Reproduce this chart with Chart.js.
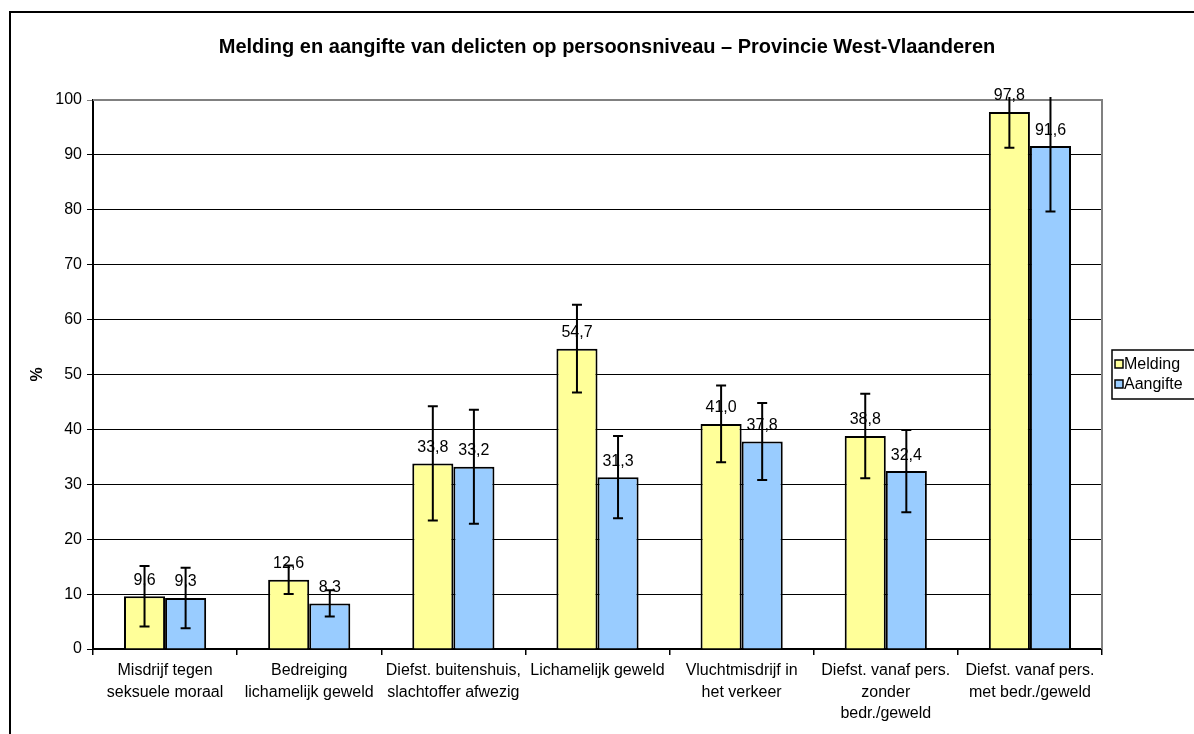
<!DOCTYPE html>
<html>
<head>
<meta charset="utf-8">
<script src="https://cdn.jsdelivr.net/npm/chart.js@4/dist/chart.umd.min.js"></script>
<style>
  html, body { margin: 0; padding: 0; background: #fff; }
  #wrap { width: 1194px; height: 734px; }
</style>
</head>
<body>
<div id="wrap"><canvas id="c" width="1194" height="734"></canvas></div>
<script>
const titleText = 'Melding en aangifte van delicten op persoonsniveau \u2013 Provincie West-Vlaanderen';
const categories = [
  ['Misdrijf tegen', 'seksuele moraal'],
  ['Bedreiging', 'lichamelijk geweld'],
  ['Diefst. buitenshuis,', 'slachtoffer afwezig'],
  ['Lichamelijk geweld'],
  ['Vluchtmisdrijf in', 'het verkeer'],
  ['Diefst. vanaf pers.', 'zonder', 'bedr./geweld'],
  ['Diefst. vanaf pers.', 'met bedr./geweld']
];
const seriesNames = ['Melding', 'Aangifte'];
const melding = [9.6, 12.6, 33.8, 54.7, 41.0, 38.8, 97.8];
const aangifte = [9.3, 8.3, 33.2, 31.3, 37.8, 32.4, 91.6];
const meldingErr = [5.5, 2.6, 10.4, 8.0, 7.0, 7.7, 6.5];
const aangifteErr = [5.5, 2.4, 10.4, 7.5, 7.0, 7.5, 11.9];
const yTicks = [0, 10, 20, 30, 40, 50, 60, 70, 80, 90, 100];

const FONT = '"Liberation Sans", Arial, Helvetica, sans-serif';
const colors = ['#FFFF99', '#99CCFF'];
const errs = [meldingErr, aangifteErr];

const decorPlugin = {
  id: 'decor',
  afterLayout(chart) {
    const t = chart.titleBlock;
    if (t) { t.left = 19; t.right = 1195; t.width = t.right - t.left; }
  },
  beforeDraw(chart) {
    const ctx = chart.ctx;
    ctx.save();
    ctx.fillStyle = '#fff';
    ctx.fillRect(0, 0, chart.width, chart.height);
    ctx.strokeStyle = '#000';
    ctx.lineWidth = 2;
    ctx.strokeRect(10, 12, 1300, 900);
    ctx.restore();
  },
  beforeDatasetsDraw(chart) {
    const ctx = chart.ctx;
    const a = chart.chartArea;
    ctx.save();
    ctx.strokeStyle = '#808080';
    ctx.lineWidth = 2;
    ctx.beginPath();
    ctx.moveTo(a.left, a.top);
    ctx.lineTo(a.right, a.top);
    ctx.lineTo(a.right, a.bottom);
    ctx.stroke();
    ctx.restore();
  },
  afterDatasetsDraw(chart) {
    const ctx = chart.ctx;
    const y = chart.scales.y;
    const a = chart.chartArea;
    ctx.save();
    // error bars
    chart.data.datasets.forEach((ds, di) => {
      const meta = chart.getDatasetMeta(di);
      meta.data.forEach((bar, i) => {
        const v = ds.data[i];
        const e = errs[di][i];
        const x = bar.x;
        const yHiRaw = y.getPixelForValue(v + e);
        const yLo = y.getPixelForValue(v - e);
        const clipTop = a.top - 3;
        const yHi = Math.max(yHiRaw, clipTop);
        ctx.strokeStyle = '#000';
        ctx.lineWidth = 2;
        ctx.beginPath();
        ctx.moveTo(x, yHi);
        ctx.lineTo(x, yLo);
        ctx.moveTo(x - 5, yLo);
        ctx.lineTo(x + 5, yLo);
        if (yHiRaw >= clipTop) {
          ctx.moveTo(x - 5, yHi);
          ctx.lineTo(x + 5, yHi);
        }
        ctx.stroke();
      });
    });
    // data labels
    ctx.fillStyle = '#000';
    ctx.font = '16px ' + FONT;
    ctx.textAlign = 'center';
    ctx.textBaseline = 'middle';
    chart.data.datasets.forEach((ds, di) => {
      const meta = chart.getDatasetMeta(di);
      meta.data.forEach((bar, i) => {
        const txt = ds.data[i].toFixed(1).replace('.', ',');
        ctx.fillText(txt, bar.x, bar.y - 16);
      });
    });
    // legend
    const lx = 1112, ly = 350;
    ctx.strokeStyle = '#000';
    ctx.lineWidth = 1.5;
    ctx.fillStyle = '#fff';
    ctx.fillRect(lx, ly, 200, 49);
    ctx.strokeRect(lx, ly, 200, 49);
    ctx.textAlign = 'left';
    ctx.font = '16px ' + FONT;
    seriesNames.forEach((n, k) => {
      const cy = 364 + k * 20;
      ctx.fillStyle = colors[k];
      ctx.fillRect(lx + 3, cy - 4, 8, 8);
      ctx.strokeStyle = '#000';
      ctx.lineWidth = 1.5;
      ctx.strokeRect(lx + 3, cy - 4, 8, 8);
      ctx.fillStyle = '#000';
      ctx.fillText(n, lx + 12, cy + 1);
    });
    ctx.restore();
  }
};

new Chart(document.getElementById('c'), {
  type: 'bar',
  data: {
    labels: categories,
    datasets: [
      { label: seriesNames[0], data: melding, backgroundColor: colors[0], borderColor: '#000', borderWidth: 2 },
      { label: seriesNames[1], data: aangifte, backgroundColor: colors[1], borderColor: '#000', borderWidth: 2 }
    ]
  },
  options: {
    responsive: false,
    animation: false,
    devicePixelRatio: 1,
    layout: { padding: { left: 20, right: 92, top: 0, bottom: 0 } },
    datasets: { bar: { categoryPercentage: 0.57, barPercentage: 1.0 } },
    plugins: {
      legend: { display: false },
      tooltip: { enabled: false },
      title: {
        display: true,
        text: titleText,
        color: '#000',
        font: { family: FONT, size: 20, weight: 'bold', lineHeight: 1.2 },
        padding: { top: 35, bottom: 41 }
      }
    },
    scales: {
      x: {
        afterFit(s) { s.height = 85; },
        grid: { offset: true, drawOnChartArea: false, drawTicks: true, tickLength: 6, color: '#000', lineWidth: 1.5 },
        border: { color: '#000', width: 2 },
        ticks: { color: '#000', font: { family: FONT, size: 16, lineHeight: 1.35 }, maxRotation: 0, autoSkip: false, padding: 5 }
      },
      y: {
        min: 0, max: 100,
        afterFit(s) { s.width = 73; },
        afterBuildTicks(s) { s.ticks = yTicks.map(v => ({ value: v })); },
        grid: { color: c => (c.tick && c.tick.value === 100) ? '#808080' : '#000', lineWidth: 1, tickLength: 6 },
        border: { color: '#000', width: 2 },
        ticks: { color: '#000', font: { family: FONT, size: 16 }, padding: 5 },
        title: { display: true, text: '%', color: '#000', font: { family: FONT, size: 16, weight: 'bold', lineHeight: 1.2 }, padding: { top: 8, bottom: 0 } }
      }
    }
  },
  plugins: [decorPlugin]
});
</script>
</body>
</html>
